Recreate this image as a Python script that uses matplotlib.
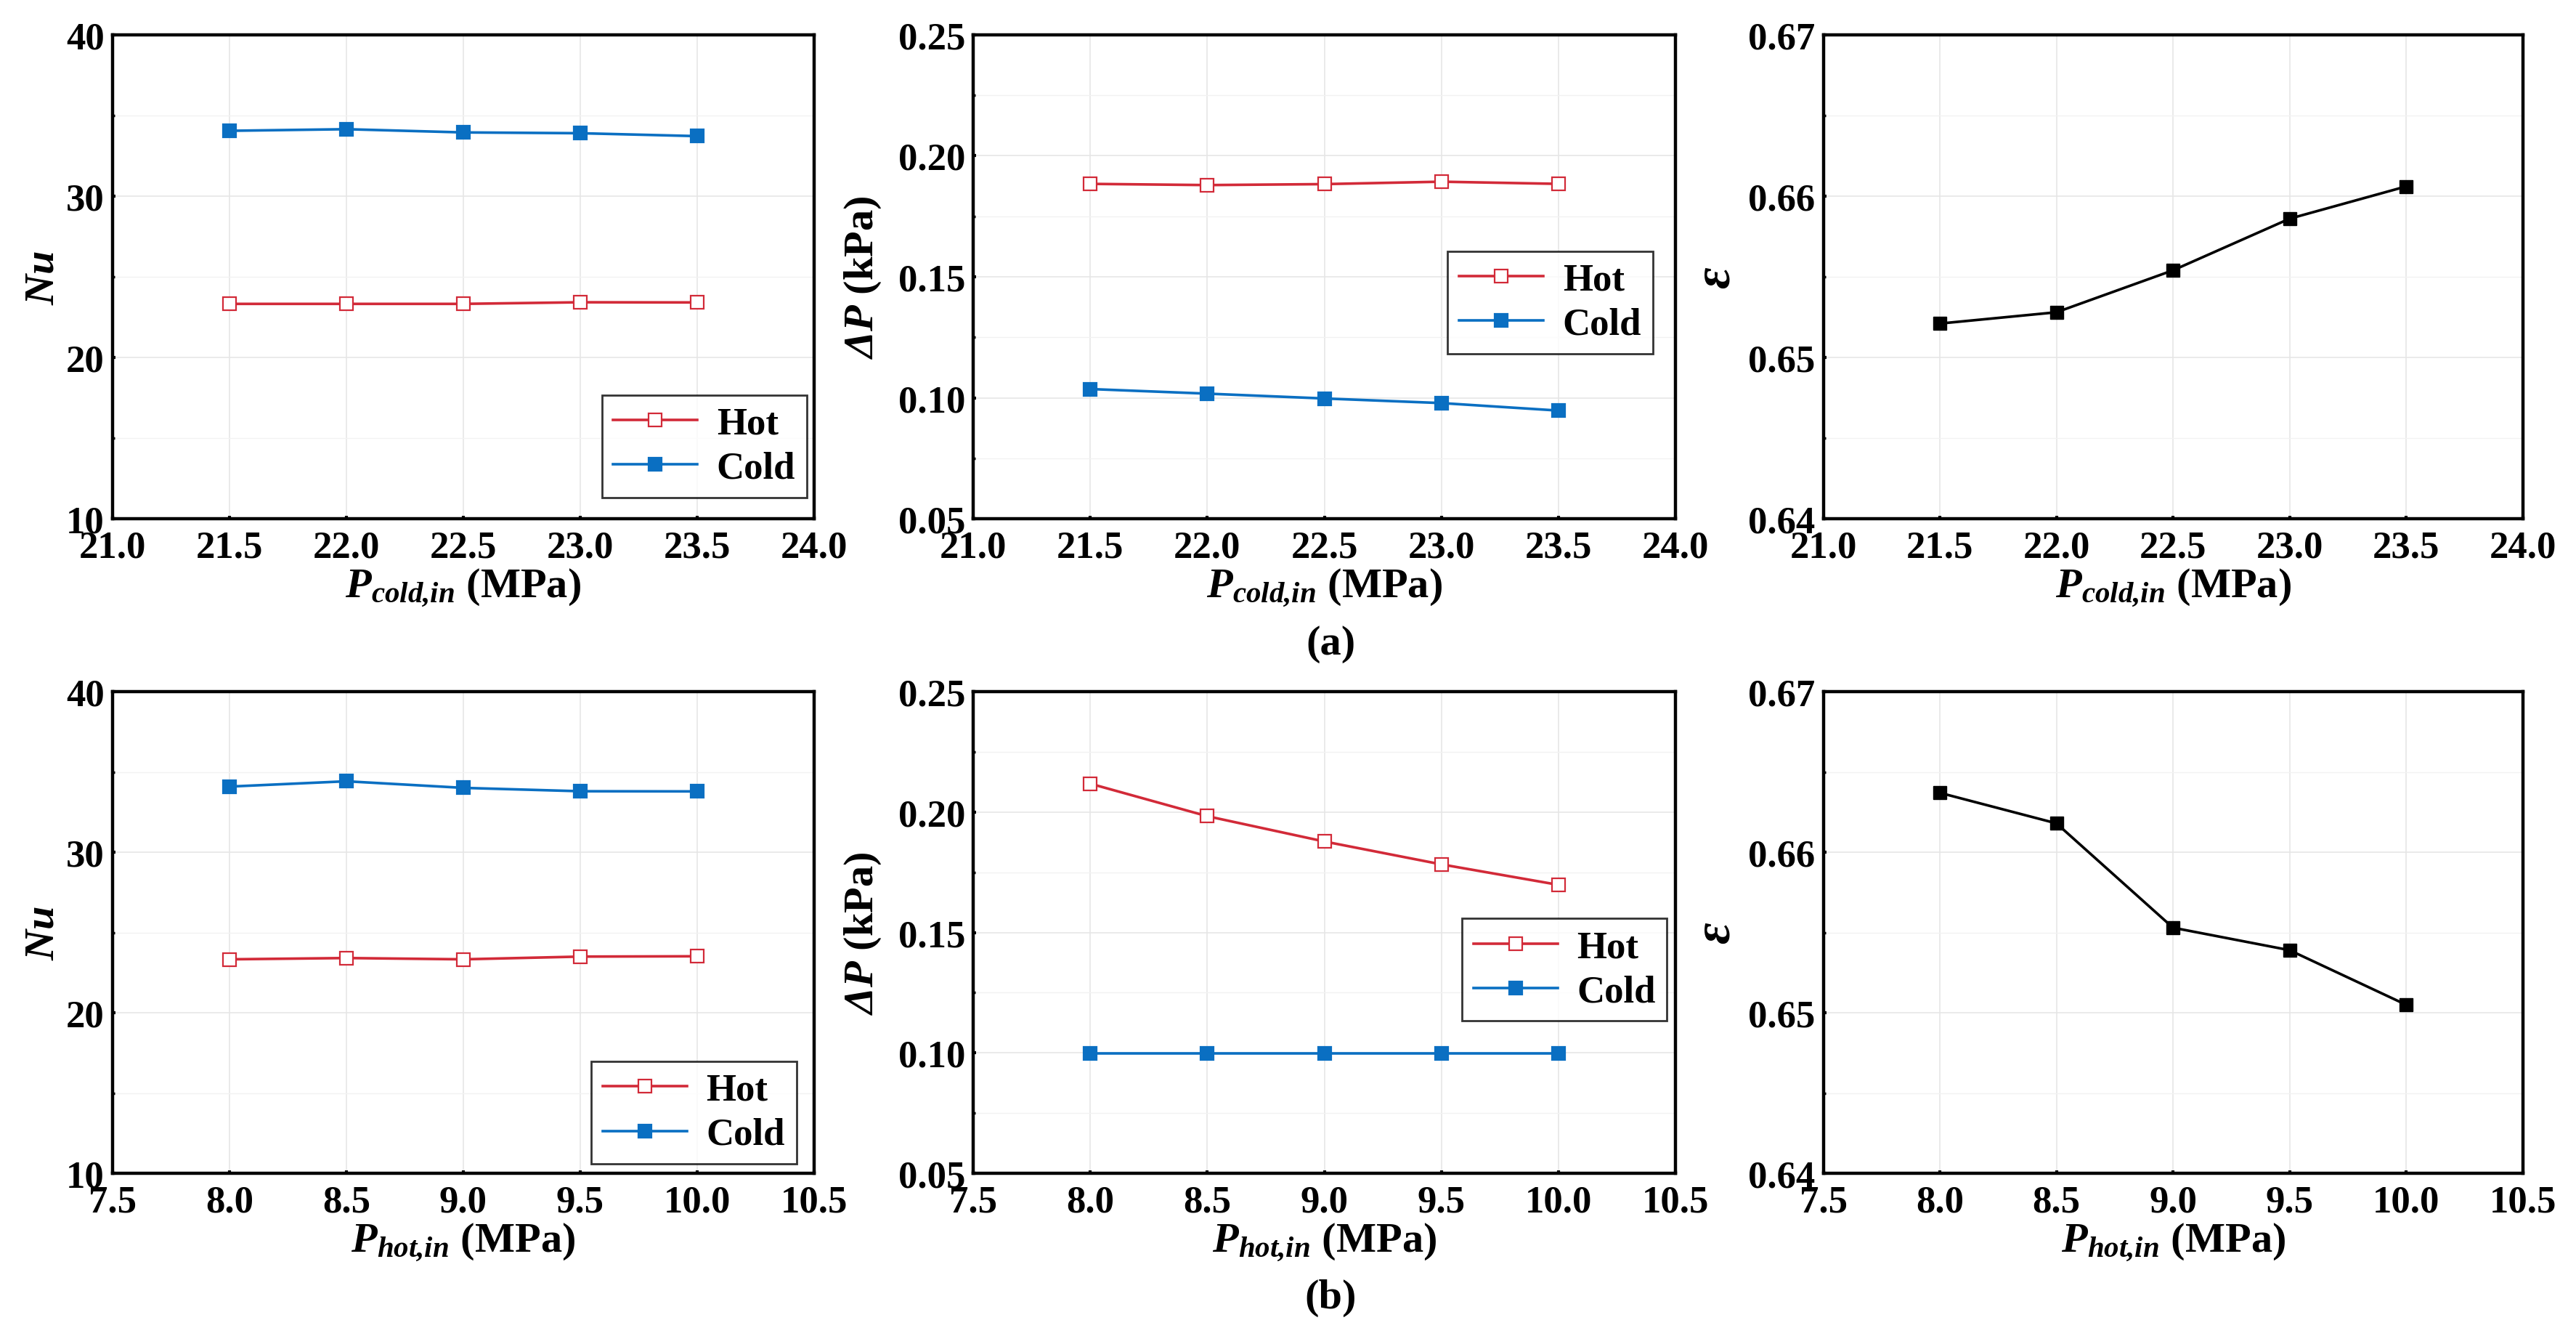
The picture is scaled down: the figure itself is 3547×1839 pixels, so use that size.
import numpy as np
import matplotlib
matplotlib.use('Agg')
import matplotlib.pyplot as plt
from matplotlib.ticker import MultipleLocator, AutoMinorLocator, FormatStrFormatter

plt.rcParams['font.family'] = ['Liberation Serif', 'DejaVu Serif']
plt.rcParams['font.weight'] = 'bold'
plt.rcParams['axes.labelweight'] = 'bold'
plt.rcParams['mathtext.fontset'] = 'custom'
plt.rcParams['mathtext.rm'] = 'Liberation Serif:bold'
plt.rcParams['mathtext.bf'] = 'Liberation Serif:italic:bold'
plt.rcParams['mathtext.it'] = 'Liberation Serif:italic:bold'

# (a) varying cold inlet pressure
p_cold = [21.5, 22.0, 22.5, 23.0, 23.5]
nu_hot_a = [23.32, 23.32, 23.32, 23.42, 23.41]
nu_cold_a = [34.05, 34.15, 33.95, 33.9, 33.72]
dp_hot_a = [0.1884, 0.1879, 0.1883, 0.1893, 0.1884]
dp_cold_a = [0.1036, 0.1017, 0.0997, 0.0978, 0.0947]
eff_a = [0.6521, 0.6528, 0.6554, 0.6586, 0.6606]

# (b) varying hot inlet pressure
p_hot = [8.0, 8.5, 9.0, 9.5, 10.0]
nu_hot_b = [23.33, 23.41, 23.33, 23.5, 23.52]
nu_cold_b = [34.09, 34.42, 34.01, 33.8, 33.79]
dp_hot_b = [0.2118, 0.1983, 0.1878, 0.1783, 0.1698]
dp_cold_b = [0.0998, 0.0998, 0.0998, 0.0998, 0.0998]
eff_b = [0.6637, 0.6618, 0.6553, 0.6539, 0.6505]

RED = '#D22A38'
BLUE = '#0A6FC2'
TICK_FS = 38
LABEL_FS = 42

fig = plt.figure(figsize=(35.47, 18.40), dpi=100)

col_left = [0.0437, 0.3778, 0.7078]
col_w = [0.2723, 0.2726, 0.2715]
row_bottom = [0.6114, 0.1217]
row_h = [0.362, 0.3603]

axes = [[fig.add_axes([col_left[c], row_bottom[r], col_w[c], row_h[r]])
         for c in range(3)] for r in range(2)]


def style(ax, xlim, xstep, ylim, ystep, yfmt):
    ax.set_xlim(*xlim)
    ax.set_ylim(*ylim)
    ax.xaxis.set_major_locator(MultipleLocator(xstep))
    ax.yaxis.set_major_locator(MultipleLocator(ystep))
    ax.yaxis.set_minor_locator(AutoMinorLocator(2))
    ax.xaxis.set_major_formatter(FormatStrFormatter('%.1f'))
    ax.yaxis.set_major_formatter(FormatStrFormatter(yfmt))
    ax.grid(True, which='major', color='#E6E6E6', lw=1.2, zorder=0)
    ax.grid(True, which='minor', axis='y', color='#F2F2F2', lw=1.0, zorder=0)
    ax.set_axisbelow(True)
    for s in ax.spines.values():
        s.set_linewidth(3.2)
        s.set_color('black')
    ax.tick_params(which='major', direction='in', length=3, width=3,
                   labelsize=TICK_FS, pad=8)
    ax.tick_params(axis='x', which='major', pad=11)
    ax.tick_params(which='minor', direction='in', length=2.5, width=2.5)
    ax.tick_params(axis='x', which='minor', length=0)
    for lab in ax.get_xticklabels() + ax.get_yticklabels():
        lab.set_fontweight('bold')


def two_lines(ax, x, hot, cold, legend_anchor, legend_loc):
    ax.plot(x, hot, '-s', color=RED, lw=2.6, ms=13.5, mfc='white',
            mec=RED, mew=1.6, label='Hot', zorder=3)
    ax.plot(x, cold, '-s', color=BLUE, lw=2.6, ms=13.5, mfc=BLUE,
            mec=BLUE, mew=1.6, label='Cold', zorder=3)
    leg = ax.legend(loc=legend_loc, bbox_to_anchor=legend_anchor,
                    fontsize=TICK_FS, frameon=True, fancybox=False,
                    edgecolor='black', handlelength=2.2, borderaxespad=0,
                    borderpad=0.3, labelspacing=0.25, handletextpad=0.5)
    leg.get_frame().set_linewidth(2.0)


xlab_a = r'$\mathbf{P_{cold{,}in}}$ (MPa)'
xlab_b = r'$\mathbf{P_{hot{,}in}}$ (MPa)'

rows = [
    (p_cold, (21.0, 24.0), xlab_a, nu_hot_a, nu_cold_a, dp_hot_a, dp_cold_a, eff_a,
     [(0.99, 0.044), 'lower right'], [(0.968, 0.553), 'upper right']),
    (p_hot, (7.5, 10.5), xlab_b, nu_hot_b, nu_cold_b, dp_hot_b, dp_cold_b, eff_b,
     [(0.975, 0.02), 'lower right'], [(0.988, 0.529), 'upper right']),
]

for r, (x, xlim, xlab, nh, nc, dh, dc, ef, leg1, leg2) in enumerate(rows):
    ax1, ax2, ax3 = axes[r]

    two_lines(ax1, x, nh, nc, leg1[0], leg1[1])
    style(ax1, xlim, 0.5, (10, 40), 10, '%d')
    ax1.set_ylabel(r'$\mathbf{Nu}$', fontsize=LABEL_FS)
    ax1.yaxis.set_label_coords(-0.072, 0.5)

    two_lines(ax2, x, dh, dc, leg2[0], leg2[1])
    style(ax2, xlim, 0.5, (0.05, 0.25), 0.05, '%.2f')
    ax2.set_ylabel(r'$\mathbf{\Delta P}$ (kPa)', fontsize=LABEL_FS)
    ax2.yaxis.set_label_coords(-0.128, 0.5)

    ax3.plot(x, ef, '-s', color='black', lw=2.6, ms=13.5, zorder=3)
    style(ax3, xlim, 0.5, (0.64, 0.67), 0.01, '%.2f')
    ax3.set_ylabel(r'$\mathbf{\varepsilon}$', fontsize=52)
    ax3.yaxis.set_label_coords(-0.118, 0.5)

    for ax in (ax1, ax2, ax3):
        ax.set_xlabel(xlab, fontsize=LABEL_FS, labelpad=2)

fig.text(0.5165, 0.518, '(a)', ha='center', va='center', fontsize=LABEL_FS, fontweight='bold')
fig.text(0.5165, 0.029, '(b)', ha='center', va='center', fontsize=LABEL_FS, fontweight='bold')

fig.savefig('out.png', dpi=100)
